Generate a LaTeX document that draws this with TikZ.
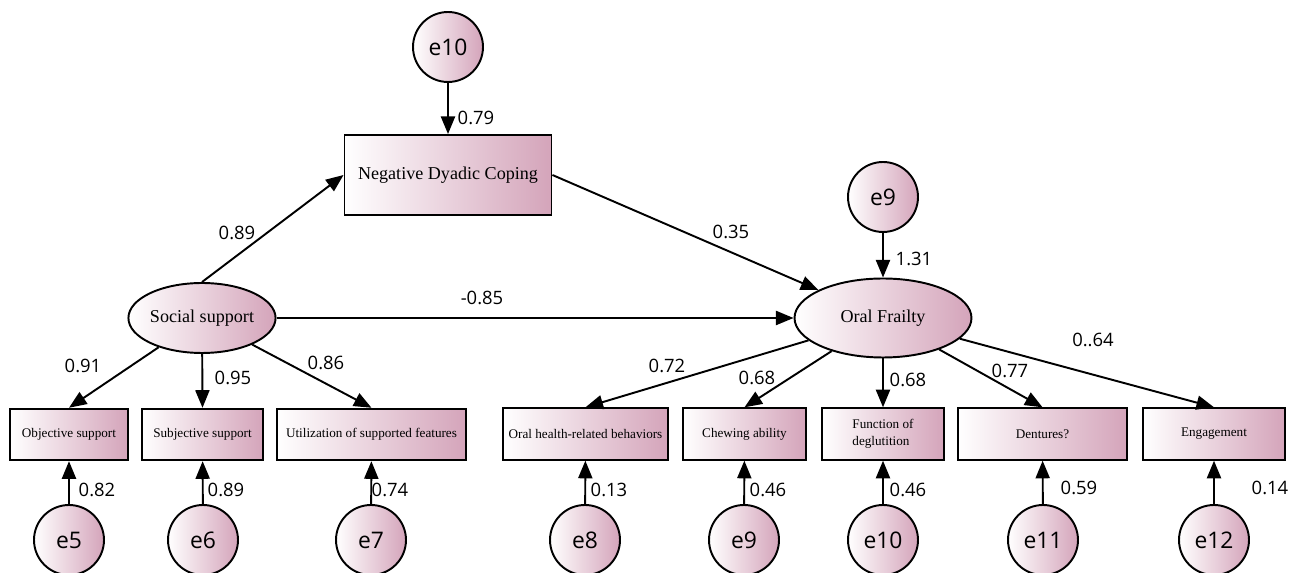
\documentclass[tikz,border=0pt]{standalone}
\usepackage{fontspec}
\setmainfont{Liberation Serif}
\setsansfont{Open Sans}
\usetikzlibrary{shapes.geometric,arrows.meta}

\definecolor{semPink}{RGB}{212,164,186}

\tikzset{
  shaded/.style={draw, line width=1.1pt, left color=white, right color=semPink},
  latent/.style={shaded, ellipse, inner sep=0pt, font=\fontsize{10.3}{12}\selectfont},
  errvar/.style={shaded, circle, minimum size=1.4cm, inner sep=0pt,
    font=\sffamily\fontsize{13}{15}\selectfont},
  obsbox/.style={shaded, rectangle, inner sep=1pt, minimum height=1.03cm,
    font=\fontsize{7.5}{10}\selectfont},
  semarrow/.style={line width=1.1pt, -{Triangle[length=10pt,width=8pt]}},
  coef/.style={inner sep=0pt, font=\sffamily\fontsize{10.5}{12}\selectfont}
}

\begin{document}
\begin{tikzpicture}[x=0.02cm, y=-0.02cm]
\useasboundingbox (0,0) rectangle (1289,573);

% Latent variables and mediator
\node[latent, minimum width=2.6cm, minimum height=1.4cm] (social) at (202,318) {Social support};
\node[latent, minimum width=3.54cm, minimum height=1.58cm] (frailty) at (883,318) {Oral Frailty};
\node[shaded, rectangle, minimum width=4.14cm, minimum height=1.6cm,
  font=\fontsize{10.3}{12}\selectfont] (coping) at (448,175) {Negative Dyadic Coping};

% Residuals of the structural part
\node[errvar] (eCoping) at (448,47) {e10};
\node[errvar] (eFrailty) at (883,197) {e9};

% Indicators of social support
\node[obsbox, minimum width=2.36cm] (objective) at (69,434.5) {Objective support};
\node[obsbox, minimum width=2.42cm] (subjective) at (202.5,434.5) {Subjective support};
\node[obsbox, minimum width=3.78cm] (utilization) at (371.5,434.5) {Utilization of supported features};

% Indicators of oral frailty
\node[obsbox, minimum width=3.3cm] (behaviors) at (585.5,434) {Oral health-related behaviors};
\node[obsbox, minimum width=2.46cm] (chewing) at (744.5,434) {Chewing ability};
\node[obsbox, minimum width=2.44cm, align=left] (deglutition) at (883,434) {Function of\\deglutition};
\node[obsbox, minimum width=3.38cm] (dentures) at (1042.5,434) {Dentures?};
\node[obsbox, minimum width=2.84cm] (engagement) at (1214,434) {Engagement};

% Measurement errors
\node[errvar] (e5) at (69,540) {e5};
\node[errvar] (e6) at (203,540) {e6};
\node[errvar] (e7) at (371,540) {e7};
\node[errvar] (e8) at (585,540) {e8};
\node[errvar] (e9) at (744,540) {e9};
\node[errvar] (e10) at (883,540) {e10};
\node[errvar] (e11) at (1043,540) {e11};
\node[errvar] (e12) at (1214,540) {e12};

% Structural paths
\draw[semarrow] (eCoping) -- (coping);
\draw[semarrow] (social.north) -- (coping.west);
\draw[semarrow] (coping.east) -- (frailty);
\draw[semarrow] (social.east) -- (frailty.west);
\draw[semarrow] (eFrailty) -- (frailty);

% Loadings
\draw[semarrow] (social) -- (objective.north);
\draw[semarrow] (social) -- (subjective.north);
\draw[semarrow] (social) -- (utilization.north);
\draw[semarrow] (frailty) -- (behaviors.north);
\draw[semarrow] (frailty) -- (chewing.north);
\draw[semarrow] (frailty) -- (deglutition.north);
\draw[semarrow] (frailty) -- (dentures.north);
\draw[semarrow] (frailty) -- (engagement.north);

% Error paths
\draw[semarrow] (e5) -- (objective);
\draw[semarrow] (e6) -- (subjective);
\draw[semarrow] (e7) -- (utilization);
\draw[semarrow] (e8) -- (behaviors);
\draw[semarrow] (e9) -- (chewing);
\draw[semarrow] (e10) -- (deglutition);
\draw[semarrow] (e11) -- (dentures);
\draw[semarrow] (e12) -- (engagement);

% Coefficients
\node[coef] (cCoping) at (476,118) {0.79};
\node[coef] (cSocCop) at (237,233) {0.89};
\node[coef] (cCopFra) at (731,232) {0.35};
\node[coef] (cSocFra) at (482,298) {-0.85};
\node[coef] (cFrailty) at (914,259) {1.31};
\node[coef] (cObj) at (83,366) {0.91};
\node[coef] (cSubj) at (233,378) {0.95};
\node[coef] (cUtil) at (326,363) {0.86};
\node[coef] (cBeh) at (667,366) {0.72};
\node[coef] (cChew) at (757,378) {0.68};
\node[coef] (cDegl) at (908,380) {0.68};
\node[coef] (cDent) at (1010,371) {0.77};
\node[coef] (cEng) at (1093,340) {0..64};
\node[coef] (c5) at (97,490) {0.82};
\node[coef] (c6) at (226,490) {0.89};
\node[coef] (c7) at (390,490) {0.74};
\node[coef] (c8) at (609,490) {0.13};
\node[coef] (c9) at (768,490) {0.46};
\node[coef] (c10) at (908,490) {0.46};
\node[coef] (c11) at (1079,488) {0.59};
\node[coef] (c12) at (1270,488) {0.14};
\end{tikzpicture}
\end{document}
